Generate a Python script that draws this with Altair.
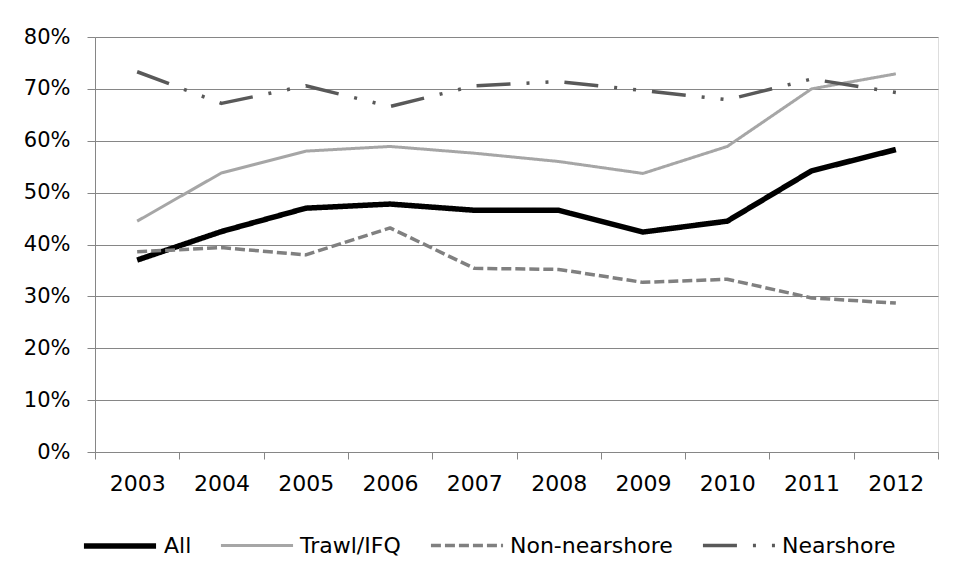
import altair as alt
import pandas as pd

years = [2003, 2004, 2005, 2006, 2007, 2008, 2009, 2010, 2011, 2012]
series_names = ["All", "Trawl/IFQ", "Non-nearshore", "Nearshore"]
all_vals = [0.370, 0.425, 0.470, 0.478, 0.466, 0.466, 0.424, 0.445, 0.542, 0.583]
trawl_vals = [0.445, 0.538, 0.580, 0.589, 0.576, 0.560, 0.537, 0.589, 0.700, 0.729]
non_vals = [0.386, 0.394, 0.380, 0.432, 0.354, 0.352, 0.327, 0.333, 0.297, 0.287]
near_vals = [0.733, 0.672, 0.706, 0.666, 0.706, 0.714, 0.697, 0.679, 0.719, 0.693]

y_ticks = [0, 0.1, 0.2, 0.3, 0.4, 0.5, 0.6, 0.7, 0.8]
x_tick_positions = [2002.5 + i * 0.5 for i in range(21)]

colors = ["#000000", "#A6A6A6", "#808080", "#595959"]
dashes = [[1, 0], [1, 0], [10, 4], [34, 16, 3, 16, 3, 16]]
widths = [5.5, 3, 3.5, 3.5]

rows = []
for name, vals in zip(series_names, [all_vals, trawl_vals, non_vals, near_vals]):
    for yr, v in zip(years, vals):
        rows.append({"year": yr, "share": v, "series": name})
df = pd.DataFrame(rows)

FONT = "DejaVu Sans"

chart = alt.Chart(df).mark_line(strokeJoin="round").encode(
    x=alt.X(
        "year:Q",
        scale=alt.Scale(domain=[2002.5, 2012.5], nice=False, zero=False),
        axis=alt.Axis(
            title=None,
            values=x_tick_positions,
            labelExpr="datum.value % 1 === 0 ? toString(datum.value) : ''",
            tickOpacity={"condition": {"test": "datum.value % 1 === 0", "value": 0}, "value": 1},
            tickSize=7,
            tickColor="#868686",
            domainColor="#868686",
            grid=False,
            labelFont=FONT,
            labelFontSize=22,
            labelColor="#000000",
            labelPadding=14,
            labelOverlap=False,
            labelFlush=False,
        ),
    ),
    y=alt.Y(
        "share:Q",
        scale=alt.Scale(domain=[0, 0.8], nice=False),
        axis=alt.Axis(
            title=None,
            values=y_ticks,
            format=".0%",
            tickSize=8,
            tickColor="#868686",
            domainColor="#868686",
            gridColor="#868686",
            gridWidth=1,
            labelFont=FONT,
            labelFontSize=21,
            labelColor="#000000",
            labelPadding=17,
        ),
    ),
    color=alt.Color(
        "series:N",
        sort=series_names,
        scale=alt.Scale(domain=series_names, range=colors),
        legend=alt.Legend(
            title=None,
            orient="none",
            direction="horizontal",
            legendX=-14,
            legendY=470,
            symbolType="stroke",
            symbolSize=5200,
            labelFont=FONT,
            labelFontSize=22,
            labelColor="#000000",
            labelLimit=400,
            labelOffset=5,
            columnPadding=22,
            padding=0,
        ),
    ),
    strokeDash=alt.StrokeDash(
        "series:N",
        sort=series_names,
        scale=alt.Scale(domain=series_names, range=dashes),
    ),
    strokeWidth=alt.StrokeWidth(
        "series:O",
        sort=series_names,
        scale=alt.Scale(type="ordinal", domain=series_names, range=widths),
    ),
    order=alt.Order("year:Q"),
).properties(
    width=843,
    height=415,
    autosize=alt.AutoSizeParams(type="none"),
    padding={"left": 87, "top": 29, "right": 8, "bottom": 110},
).configure_view(
    stroke=None
).configure(
    background="white"
)

chart.save("out.html", embed_options={"renderer": "svg", "actions": False})
